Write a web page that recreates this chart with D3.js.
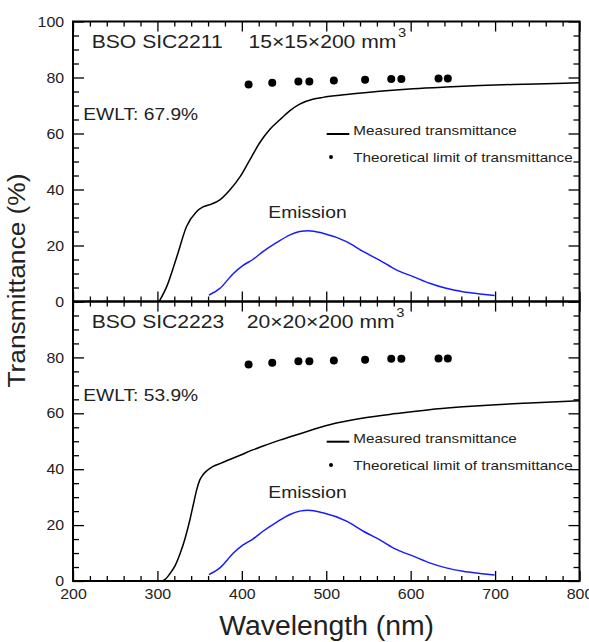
<!DOCTYPE html>
<html>
<head>
<meta charset="utf-8">
<script src="https://cdn.jsdelivr.net/npm/d3@7"></script>
<style>
  html, body { margin: 0; padding: 0; background: #fff; }
  svg { display: block; font-family: "Liberation Sans", Arial, sans-serif; }
</style>
</head>
<body>
<svg id="chart" width="589" height="642"></svg>
<script>
// ---- data ---------------------------------------------------------------
const xTicks = [200, 300, 400, 500, 600, 700, 800];
const yTicksTop = [0, 20, 40, 60, 80, 100];
const yTicksBottom = [0, 20, 40, 60, 80];

// Theoretical limit of transmittance (same crystal material in both samples)
const limitWavelength = [408, 436, 467, 480, 509, 546, 577, 589, 633, 644];
const limitValue = [77.5, 78.1, 78.6, 78.6, 78.9, 79.2, 79.5, 79.5, 79.6, 79.6];

// Measured transmittance, SIC2211 (15x15x200)
const meas1Wavelength = [302, 311, 323, 334.5, 346, 354, 362, 374, 386, 398, 409.5, 421, 433, 445, 457, 468.6, 484, 496, 524, 563, 603, 642, 682, 721, 760, 800];
const meas1Value = [0, 5.3, 16, 26.8, 32, 33.8, 34.6, 36.3, 39.9, 44.6, 50.6, 56.6, 61.4, 64.9, 68.2, 70.5, 72.2, 72.9, 73.9, 75.1, 76.0, 76.6, 77.1, 77.5, 77.8, 78.1];

// Measured transmittance, SIC2223 (20x20x200)
const meas2Wavelength = [306, 310, 315, 321, 327, 333, 338.5, 343, 346.5, 350, 354, 360, 366, 374, 382, 398, 413, 429, 445, 469, 504, 544, 583, 622, 662, 701, 741, 800];
const meas2Value = [0, 0.8, 2.7, 5.5, 9.9, 15.5, 21.9, 28, 32.6, 36, 38, 39.8, 41, 42, 43.0, 45.0, 46.9, 48.7, 50.4, 52.7, 55.9, 58.3, 59.9, 61.3, 62.3, 63.1, 63.7, 64.5];

// Emission spectrum (arbitrary units, shown on the same scale)
const emissionWavelength = [361, 374, 390, 401.5, 413, 425, 441, 457, 468.6, 478.5, 496, 524, 544, 563, 583, 603, 622.5, 642, 662, 682, 699.4];
const emissionValue = [2.3, 4.7, 10.0, 12.9, 15.0, 17.8, 21.0, 23.8, 25.0, 25.3, 24.4, 21.4, 17.8, 14.8, 11.3, 8.9, 6.5, 4.7, 3.5, 2.7, 2.1];

const panelTitles = ["BSO SIC2211", "BSO SIC2223"];
const panelSizes = ["15\u00d715\u00d7200 mm", "20\u00d720\u00d7200 mm"];
const panelEwlt = ["EWLT: 67.9%", "EWLT: 53.9%"];

// ---- layout -------------------------------------------------------------
const svg = d3.select("#chart");
const TEXT = "#222";
const SX = 1.13; // glyphs of this figure are set slightly wide

const x = d3.scaleLinear().domain([200, 800]).range([73, 579.5]);

const panels = [
  { top: 21.5, bottom: 301.5, meas: [meas1Wavelength, meas1Value], yTicks: yTicksTop,
    titleY: 48.3, sizeX: 248.5, ewltY: 120, emisY: 218.3,
    legLineY: 134, legText1Y: 134.8, legDotY: 157, legText2Y: 161.7, xLabels: false },
  { top: 301.5, bottom: 581, meas: [meas2Wavelength, meas2Value], yTicks: yTicksBottom,
    titleY: 328.3, sizeX: 246.7, ewltY: 400.7, emisY: 498,
    legLineY: 441.7, legText1Y: 443, legDotY: 465, legText2Y: 470, xLabels: true }
];

function label(parent, px, py, str, size, anchor, sx) {
  return parent.append("text")
    .attr("transform", `translate(${px},${py}) scale(${sx || SX},1)`)
    .attr("text-anchor", anchor || "start")
    .attr("font-size", size)
    .attr("fill", TEXT)
    .text(str);
}

const minorX = d3.range(200, 801, 20).filter(v => v % 100 !== 0);
const minorY = d3.range(0, 101, 5).filter(v => v % 20 !== 0);

panels.forEach((p, i) => {
  const y = d3.scaleLinear().domain([0, 100]).range([p.bottom, p.top]);
  const g = svg.append("g");

  const styleAxis = sel => {
    sel.select(".domain").remove();
    sel.selectAll("line").attr("stroke", "#000").attr("stroke-width", 1.3);
    sel.selectAll("text").attr("fill", TEXT).attr("font-size", 14.5)
      .attr("font-family", "Liberation Sans, Arial, sans-serif")
      .attr("transform", "scale(1.1,1)");
  };

  // bottom edge
  g.append("g").attr("transform", `translate(0,${p.bottom})`)
    .call(d3.axisBottom(x).tickValues(xTicks).tickSize(-10).tickPadding(8)
      .tickFormat(p.xLabels ? d3.format("d") : () => ""))
    .call(styleAxis);
  g.append("g").attr("transform", `translate(0,${p.bottom})`)
    .call(d3.axisBottom(x).tickValues(minorX).tickSize(-5).tickFormat(() => ""))
    .call(styleAxis);
  // top edge
  g.append("g").attr("transform", `translate(0,${p.top})`)
    .call(d3.axisTop(x).tickValues(xTicks).tickSize(-10).tickFormat(() => ""))
    .call(styleAxis);
  g.append("g").attr("transform", `translate(0,${p.top})`)
    .call(d3.axisTop(x).tickValues(minorX).tickSize(-5).tickFormat(() => ""))
    .call(styleAxis);
  // left edge
  g.append("g").attr("transform", `translate(${x(200)},0)`)
    .call(d3.axisLeft(y).tickValues([0, 20, 40, 60, 80, 100]).tickSize(-11).tickPadding(8)
      .tickFormat(v => p.yTicks.includes(v) ? d3.format("d")(v) : ""))
    .call(styleAxis);
  g.append("g").attr("transform", `translate(${x(200)},0)`)
    .call(d3.axisLeft(y).tickValues(minorY).tickSize(-6).tickFormat(() => ""))
    .call(styleAxis);
  // right edge
  g.append("g").attr("transform", `translate(${x(800)},0)`)
    .call(d3.axisRight(y).tickValues([0, 20, 40, 60, 80, 100]).tickSize(-11).tickFormat(() => ""))
    .call(styleAxis);
  g.append("g").attr("transform", `translate(${x(800)},0)`)
    .call(d3.axisRight(y).tickValues(minorY).tickSize(-6).tickFormat(() => ""))
    .call(styleAxis);

  // frame
  g.append("rect")
    .attr("x", x(200)).attr("y", p.top)
    .attr("width", x(800) - x(200)).attr("height", p.bottom - p.top)
    .attr("fill", "none").attr("stroke", "#000").attr("stroke-width", 2);

  const line = d3.line().x(d => x(d[0])).y(d => y(d[1])).curve(d3.curveMonotoneX);

  // emission
  g.append("path")
    .datum(emissionWavelength.map((w, k) => [w, emissionValue[k]]))
    .attr("d", line).attr("fill", "none")
    .attr("stroke", "#1a1aff").attr("stroke-width", 1.5);

  // measured transmittance
  g.append("path")
    .datum(p.meas[0].map((w, k) => [w, p.meas[1][k]]))
    .attr("d", line).attr("fill", "none")
    .attr("stroke", "#000").attr("stroke-width", 1.5);

  // theoretical limit
  g.selectAll("circle.limit")
    .data(limitWavelength.map((w, k) => [w, limitValue[k]]))
    .join("circle").attr("class", "limit")
    .attr("cx", d => x(d[0])).attr("cy", d => y(d[1]))
    .attr("r", 4).attr("fill", "#000");

  // annotations
  label(g, 91.7, p.titleY, panelTitles[i], 18.7);
  const sz = label(g, p.sizeX, p.titleY, panelSizes[i], 18.7);
  sz.append("tspan").attr("dx", 1.5).attr("dy", -11.5).attr("font-size", 13).text("3");
  label(g, 83.3, p.ewltY, panelEwlt[i], 17);
  label(g, 268.3, p.emisY, "Emission", 17.1);

  // legend
  g.append("line")
    .attr("x1", 326.7).attr("x2", 349.3)
    .attr("y1", p.legLineY).attr("y2", p.legLineY)
    .attr("stroke", "#000").attr("stroke-width", 2);
  label(g, 353.3, p.legText1Y, "Measured transmittance", 13.5);
  g.append("circle").attr("cx", 331).attr("cy", p.legDotY).attr("r", 2).attr("fill", "#000");
  label(g, 353.3, p.legText2Y, "Theoretical limit of transmittance", 13.5);
});

// axis titles
label(svg, 326.7, 635, "Wavelength (nm)", 27, "middle", 1.05);
svg.append("text")
  .attr("transform", "translate(25,280.5) rotate(-90) scale(1.075,1)")
  .attr("text-anchor", "middle")
  .attr("font-size", 24.5)
  .attr("fill", TEXT)
  .text("Transmittance (%)");
</script>
</body>
</html>
